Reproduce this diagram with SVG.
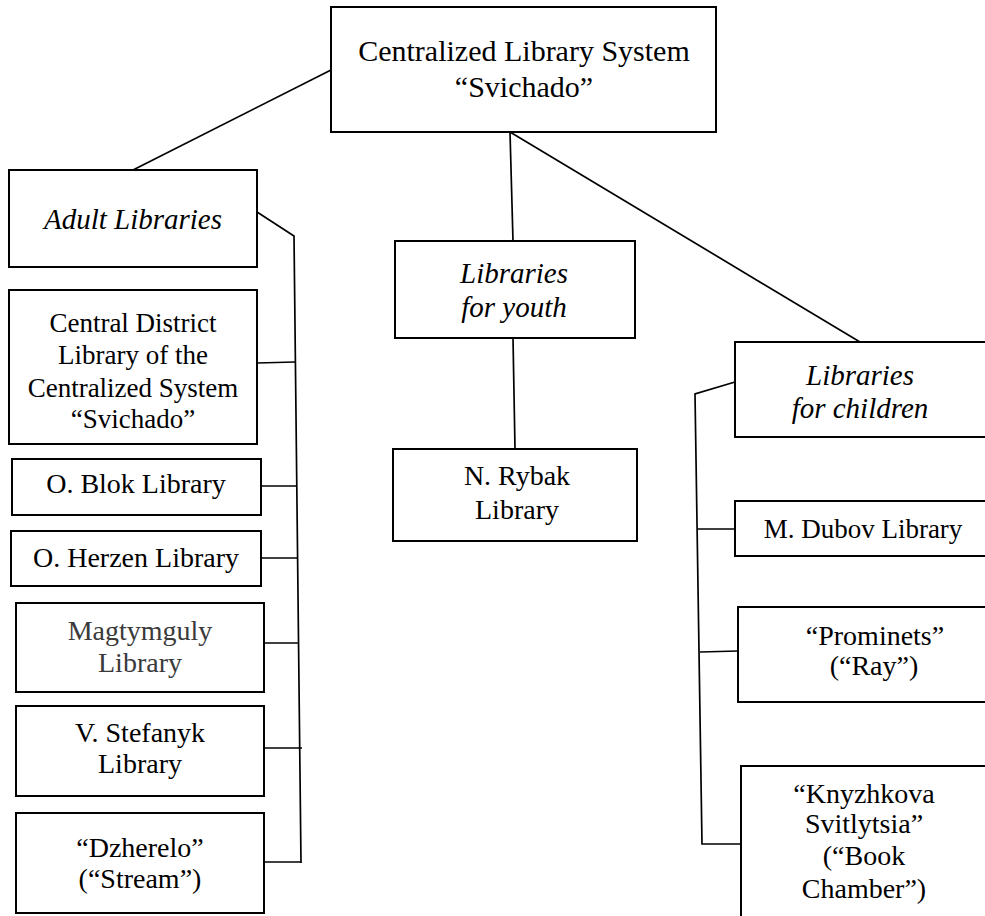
<svg xmlns="http://www.w3.org/2000/svg" width="985" height="916" viewBox="0 0 985 916">
<style>
  .box { fill: #ffffff; stroke: #000000; stroke-width: 2; }
  .ln { fill: none; stroke: #000000; stroke-width: 1.7; }
  .t { font-family: 'Liberation Serif', 'Times New Roman', Tinos, 'DejaVu Serif', serif; font-size: 28px; fill: #000000; text-anchor: middle; }
  .it { font-style: italic; font-size: 29px; }
  .big { font-size: 30px; }
  .gray { fill: #3a3a3a; }
</style>
<rect x="0" y="0" width="985" height="916" fill="#ffffff"/>
<g id="connectors">
  <line class="ln" x1="331" y1="70" x2="133" y2="170"/>
  <line class="ln" x1="510" y1="132" x2="513" y2="241"/>
  <line class="ln" x1="510" y1="132" x2="860" y2="342"/>
  <line class="ln" x1="513" y1="338" x2="515" y2="449"/>
  <polyline class="ln" points="257,212 294,236 301,863"/>
  <line class="ln" x1="257" y1="363" x2="295" y2="362"/>
  <line class="ln" x1="261" y1="486" x2="296" y2="486"/>
  <line class="ln" x1="261" y1="558" x2="297" y2="558"/>
  <line class="ln" x1="264" y1="643" x2="298" y2="643"/>
  <line class="ln" x1="264" y1="748" x2="302" y2="748"/>
  <line class="ln" x1="264" y1="862" x2="301" y2="862"/>
  <polyline class="ln" points="735,382 695,394 702,844 741,844"/>
  <line class="ln" x1="698" y1="529" x2="735" y2="529"/>
  <line class="ln" x1="700" y1="652" x2="738" y2="651"/>
</g>
<g id="root">
  <rect class="box" x="331" y="7" width="385" height="125"/>
  <text class="t big" x="524" y="61">Centralized Library System</text>
  <text class="t big" x="524" y="97">“Svichado”</text>
</g>
<g id="adult">
  <rect class="box" x="9" y="170" width="248" height="97"/>
  <text class="t it" x="133" y="229">Adult Libraries</text>
</g>
<g id="central-district">
  <rect class="box" x="9" y="290" width="248" height="154"/>
  <text class="t" x="133" y="332" style="font-size:27px">Central District</text>
  <text class="t" x="133" y="364" style="font-size:27px">Library of the</text>
  <text class="t" x="133" y="397" style="font-size:27px">Centralized System</text>
  <text class="t" x="133" y="428" style="font-size:27px">“Svichado”</text>
</g>
<g id="blok">
  <rect class="box" x="12" y="459" width="249" height="56"/>
  <text class="t" x="136" y="493">O. Blok Library</text>
</g>
<g id="herzen">
  <rect class="box" x="11" y="531" width="250" height="55"/>
  <text class="t" x="136" y="567">O. Herzen Library</text>
</g>
<g id="magtymguly">
  <rect class="box" x="16" y="603" width="248" height="89"/>
  <text class="t gray" x="140" y="640">Magtymguly</text>
  <text class="t gray" x="140" y="672">Library</text>
</g>
<g id="stefanyk">
  <rect class="box" x="16" y="706" width="248" height="90"/>
  <text class="t" x="140" y="742">V. Stefanyk</text>
  <text class="t" x="140" y="773">Library</text>
</g>
<g id="dzherelo">
  <rect class="box" x="16" y="813" width="248" height="100"/>
  <text class="t" x="140" y="857">“Dzherelo”</text>
  <text class="t" x="140" y="888">(“Stream”)</text>
</g>
<g id="youth">
  <rect class="box" x="395" y="241" width="240" height="97"/>
  <text class="t it" x="514" y="283">Libraries</text>
  <text class="t it" x="514" y="317">for youth</text>
</g>
<g id="rybak">
  <rect class="box" x="393" y="449" width="244" height="92"/>
  <text class="t" x="517" y="485">N. Rybak</text>
  <text class="t" x="517" y="519">Library</text>
</g>
<g id="children">
  <rect class="box" x="735" y="342" width="252" height="95"/>
  <text class="t it" x="860" y="385">Libraries</text>
  <text class="t it" x="860" y="418">for children</text>
</g>
<g id="dubov">
  <rect class="box" x="735" y="501" width="252" height="55"/>
  <text class="t" x="863" y="538" style="font-size:27px">M. Dubov Library</text>
</g>
<g id="prominets">
  <rect class="box" x="738" y="607" width="290" height="95"/>
  <text class="t" x="875" y="645">“Prominets”</text>
  <text class="t" x="874" y="675">(“Ray”)</text>
</g>
<g id="knyzhkova">
  <rect class="box" x="741" y="766" width="290" height="170"/>
  <text class="t" x="864" y="803">“Knyzhkova</text>
  <text class="t" x="864" y="833">Svitlytsia”</text>
  <text class="t" x="864" y="865">(“Book</text>
  <text class="t" x="864" y="898">Chamber”)</text>
</g>
</svg>
